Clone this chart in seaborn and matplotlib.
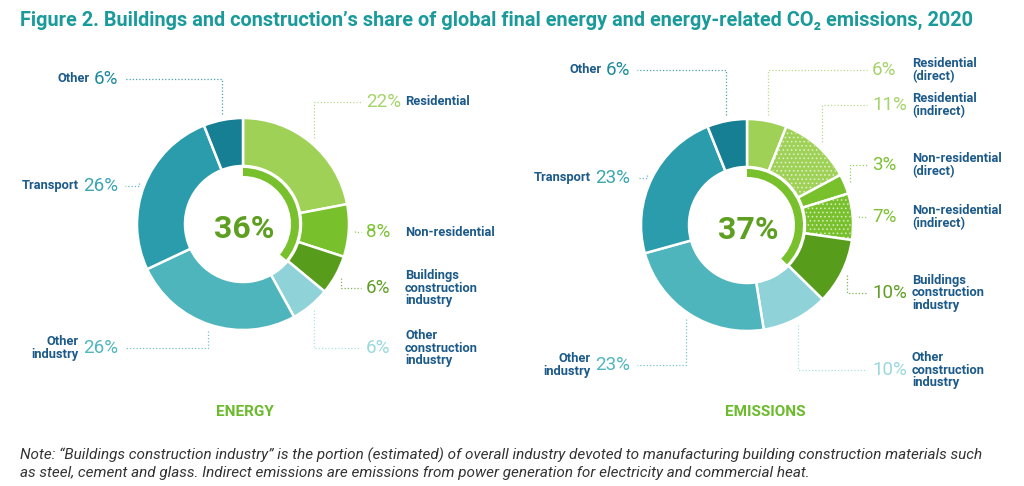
import numpy as np
import matplotlib
matplotlib.use("Agg")
import matplotlib.pyplot as plt
import seaborn as sns

# data (shares in %)
energy_names = ["Residential", "Non-residential", "Buildings\nconstruction\nindustry",
                "Other\nconstruction\nindustry", "Other\nindustry", "Transport", "Other"]
energy_values = [22, 8, 6, 6, 26, 26, 6]
energy_buildings = 36

emis_names = ["Residential\n(direct)", "Residential\n(indirect)", "Non-residential\n(direct)",
              "Non-residential\n(indirect)", "Buildings\nconstruction\nindustry",
              "Other\nconstruction\nindustry", "Other\nindustry", "Transport", "Other"]
emis_values = [6, 11, 3, 7, 10, 10, 23, 23, 6]
emis_buildings = 37

title = "Figure 2. Buildings and construction\u2019s share of global final energy and energy-related CO\u2082 emissions, 2020"
note = ["Note: \u201cBuildings construction industry\u201d is the portion (estimated) of overall industry devoted to manufacturing building construction materials such",
        "as steel, cement and glass. Indirect emissions are emissions from power generation for electricity and commercial heat."]

# styling
LIGHT_GREEN = "#9fd157"
MID_GREEN = "#78c02c"
DARK_GREEN = "#589c1c"
LIGHT_TEAL = "#8fd3d9"
TEAL = "#4fb5bd"
DEEP_TEAL = "#2a9cab"
DARK_TEAL = "#167f93"
NAVY = "#1c5a8a"

energy_colors = [LIGHT_GREEN, MID_GREEN, DARK_GREEN, LIGHT_TEAL, TEAL, DEEP_TEAL, DARK_TEAL]
energy_pct_colors = ["#a5d46a", "#7cc233", "#5e9f22", "#9ad8de", "#52b6be", "#3aa6b0", "#1c8a9a"]
energy_hatch = [False] * 7
emis_colors = [LIGHT_GREEN, LIGHT_GREEN, MID_GREEN, MID_GREEN, DARK_GREEN, LIGHT_TEAL, TEAL, DEEP_TEAL, DARK_TEAL]
emis_pct_colors = ["#a5d46a", "#a5d46a", "#7cc233", "#7cc233", "#5e9f22", "#9ad8de", "#52b6be", "#3aa6b0", "#1c8a9a"]
emis_hatch = [False, True, False, True, False, False, False, False, False]

sns.set_theme(style="white")
plt.rcParams["font.family"] = ["Roboto", "DejaVu Sans"]
plt.rcParams["hatch.linewidth"] = 0.7

W, H = 1024, 486
fig = plt.figure(figsize=(W / 100, H / 100), dpi=100)
ax = fig.add_axes([0, 0, 1, 1])
ax.set_xlim(0, W)
ax.set_ylim(0, H)
ax.axis("off")


def Y(y):
    # image row -> data y
    return H - y


def draw_donut(cx, cy, values, colors, hatches, total_green, names, pct_colors, label_pos,
               right_pct_x, right_name_x, left_pct_x):
    r_out, ring = 106, 48
    ax.pie(values, colors=colors, radius=r_out, center=(cx, Y(cy)), startangle=90,
           counterclock=False, frame=True,
           wedgeprops=dict(width=ring, edgecolor="white", linewidth=1.8))
    # dotted texture on the "indirect" wedges
    over = ax.pie(values, colors=["none"] * len(values), radius=r_out - 2, center=(cx, Y(cy)),
                  startangle=90, counterclock=False, frame=True,
                  wedgeprops=dict(width=ring - 4, linewidth=0))[0]
    for w, h in zip(over, hatches):
        if h:
            w.set_hatch("....")
            w.set_edgecolor((1, 1, 1, 0.6))
            w.set_fill(False)
    # thin inner arc for the buildings share
    ax.pie([total_green, sum(values) - total_green], colors=[MID_GREEN, "none"], radius=56,
           center=(cx, Y(cy)), startangle=90, counterclock=False, frame=True,
           wedgeprops=dict(width=8, linewidth=0))
    ax.text(cx + 1, Y(cy + 5), f"{total_green}%", ha="center", va="center",
            fontsize=23, fontweight="bold", color="#5e9f22")

    cum = np.cumsum([0] + list(values))
    tot = float(sum(values))
    for i, (v, name) in enumerate(zip(values, names)):
        side, ly = label_pos[i]
        th = np.deg2rad(360 * (cum[i] + v / 2) / tot)
        axp, ayp = cx + 112 * np.sin(th), cy - 112 * np.cos(th)
        if side == "R":
            end_x = right_pct_x - 5
            ax.text(right_pct_x, Y(ly), f"{v}%", ha="left", va="center", fontsize=13.5,
                    color=pct_colors[i])
            ax.text(right_name_x, Y(ly), name, ha="left", va="center", fontsize=9.3,
                    fontweight="bold", color=NAVY, linespacing=0.95)
        else:
            end_x = left_pct_x + 7
            t = ax.text(left_pct_x, Y(ly), f"{v}%", ha="right", va="center", fontsize=13.5,
                        color=pct_colors[i])
            bb = t.get_window_extent(renderer=fig.canvas.get_renderer())
            ax.text(bb.x0 - 4, Y(ly), name, ha="right", va="center", fontsize=9.3,
                    fontweight="bold", color=NAVY, linespacing=0.95, multialignment="right")
        ax.plot([axp, axp, end_x], [Y(ayp), Y(ly), Y(ly)], color=pct_colors[i], lw=0.9,
                linestyle=(0, (1, 1.6)), alpha=0.8, solid_capstyle="butt")


energy_pos = [("R", 102), ("R", 232), ("R", 288), ("R", 348), ("L", 348), ("L", 186), ("L", 79)]
emis_pos = [("R", 70), ("R", 105), ("R", 165), ("R", 217), ("R", 293), ("R", 370),
            ("L", 365), ("L", 178), ("L", 70)]

draw_donut(243, 224, energy_values, energy_colors, energy_hatch, energy_buildings, energy_names,
           energy_pct_colors, energy_pos, 366, 405, 118)
draw_donut(747, 225, emis_values, emis_colors, emis_hatch, emis_buildings, emis_names,
           emis_pct_colors, emis_pos, 872, 912, 630)

ax.set_xlim(0, W)
ax.set_ylim(0, H)
ax.set_aspect("auto")

ax.text(245, Y(412), "ENERGY", ha="center", va="center", fontsize=11, fontweight="bold",
        color="#6bbb2c")
ax.text(765, Y(412), "EMISSIONS", ha="center", va="center", fontsize=11, fontweight="bold",
        color="#6bbb2c")


def fit_text(x, y, s, target_w, size, **kw):
    t = ax.text(x, Y(y), s, fontsize=size, **kw)
    w = t.get_window_extent(renderer=fig.canvas.get_renderer()).width
    t.set_fontsize(size * target_w / w)
    return t


fit_text(20, 20, title, 952, 13, ha="left", va="center", fontweight="bold", color="#1a9a9a")
t0 = fit_text(20, 455, note[0], 970, 9.5, ha="left", va="center", style="italic", color="#333333")
ax.text(20, Y(473), note[1], ha="left", va="center", style="italic", color="#333333",
        fontsize=t0.get_fontsize())

fig.savefig("out.png", dpi=100, facecolor="white")
